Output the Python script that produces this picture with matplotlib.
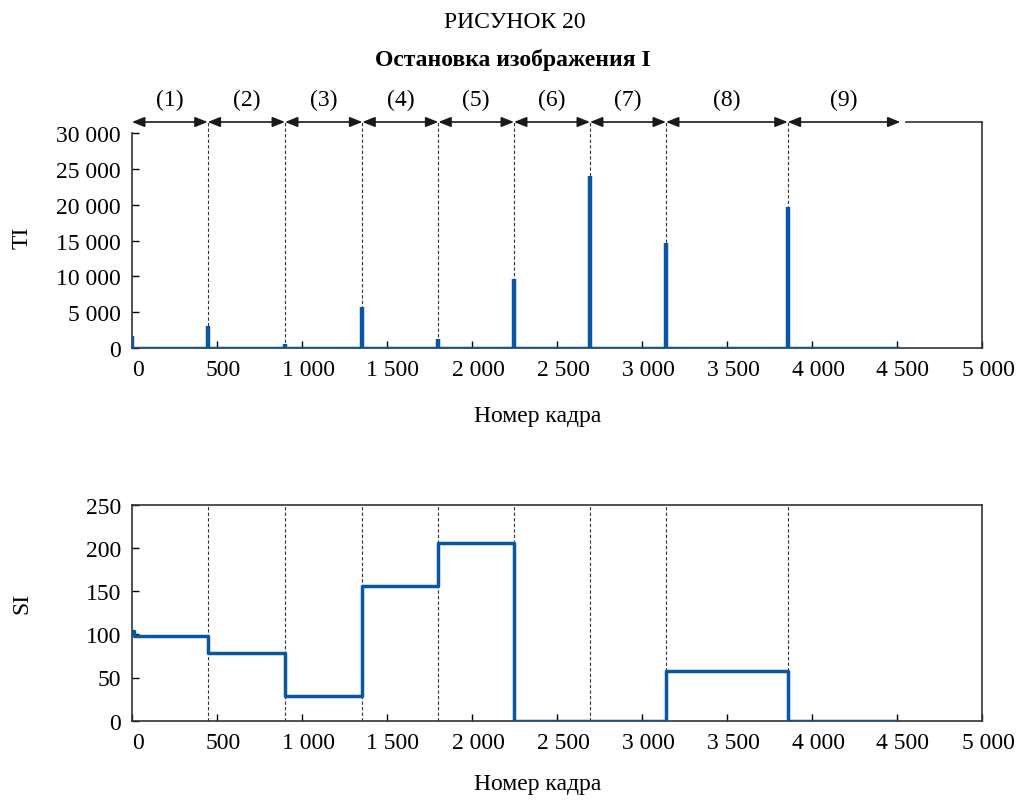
import matplotlib
matplotlib.use('Agg')
import matplotlib.pyplot as plt
import matplotlib.transforms as mtransforms
from matplotlib.ticker import FuncFormatter

plt.rcParams['font.family'] = ['Liberation Serif', 'DejaVu Serif']

# Segment boundaries (frame numbers) and labels
boundaries = [445, 900, 1355, 1802, 2247, 2694, 3141, 3857]
seg_start = 0
seg_end = 4520
seg_labels = ['(1)', '(2)', '(3)', '(4)', '(5)', '(6)', '(7)', '(8)', '(9)']

# TI: spikes at scene boundaries
ti_frames = [0, 445, 900, 1355, 1802, 2247, 2694, 3141, 3857]
ti_values = [1700, 3050, 550, 5800, 1250, 9600, 24000, 14600, 19600]

# SI: step levels per segment
si_edges = [0, 10, 445, 900, 1355, 1802, 2247, 2694, 3141, 3857, 4500]
si_levels = [104, 98, 78, 29, 156, 206, 0, 0, 57, 0]

blue = '#0b56a4'
fs = 17

fig = plt.figure(figsize=(10.21, 8.03), dpi=100)
ax1 = fig.add_axes([132/1021, 1 - 349.3/803, 850/1021, 226.3/803])
ax2 = fig.add_axes([132/1021, 1 - 721.7/803, 850/1021, 216/803])

fmt = FuncFormatter(lambda v, p: f'{int(v):,}'.replace(',', ' '))

# --- top: TI ---
for b in boundaries:
    ax1.axvline(b, color='#333333', lw=0.8, ls=(0, (3, 2)), zorder=1)
ax1.plot([seg_start, seg_end], [0, 0], color=blue, lw=2.5, zorder=3, solid_capstyle='butt')
ax1.vlines(ti_frames, 0, ti_values, color=blue, lw=3.2, zorder=3)
ax1.set_xlim(0, 5000)
ax1.set_ylim(0, 31500)
ax1.set_yticks(range(0, 30001, 5000))
ax1.spines['left'].set_bounds(0, 30000)
ax1.spines['top'].set_visible(False)

# arrows over the top
trans = mtransforms.blended_transform_factory(ax1.transData, ax1.transAxes)
edges = [seg_start] + boundaries + [seg_end]
for i in range(len(edges) - 1):
    ax1.annotate('', xy=(edges[i + 1], 1), xytext=(edges[i], 1), xycoords=trans, textcoords=trans,
                 arrowprops=dict(arrowstyle='<|-|>,head_length=0.75,head_width=0.3', color='#1a1a1a',
                                 lw=1.2, shrinkA=0, shrinkB=0), annotation_clip=False)
    ax1.text((edges[i] + edges[i + 1]) / 2, 1.1, seg_labels[i], transform=trans,
             ha='center', va='center', fontsize=fs)
ax1.plot([4550, 5000], [1, 1], color='#333333', lw=1.2, transform=trans, clip_on=False)

# --- bottom: SI ---
for b in boundaries:
    ax2.axvline(b, color='#333333', lw=0.8, ls=(0, (3, 2)), zorder=1)
ax2.step(si_edges, si_levels + [si_levels[-1]], where='post', color=blue, lw=2.5, zorder=3)
ax2.set_xlim(0, 5000)
ax2.set_ylim(0, 250)
ax2.set_yticks(range(0, 251, 50))

offset = mtransforms.ScaledTranslation(6/100, 0, fig.dpi_scale_trans)
for ax in (ax1, ax2):
    ax.set_xticks(range(0, 5001, 500))
    ax.xaxis.set_major_formatter(fmt)
    ax.yaxis.set_major_formatter(fmt)
    ax.tick_params(direction='in', labelsize=fs, length=5, width=1, top=False, right=False, pad=8)
    for lab in ax.get_xticklabels():
        lab.set_transform(lab.get_transform() + offset)
    for s in ax.spines.values():
        s.set_linewidth(1.2)
        s.set_color('#333333')

fig.text(538/1021, 1 - 417/803, 'Номер кадра', ha='center', va='center', fontsize=fs)
fig.text(538/1021, 1 - 785/803, 'Номер кадра', ha='center', va='center', fontsize=fs)
fig.text(22/1021, 1 - 238/803, 'TI', ha='center', va='center', fontsize=fs, rotation=90)
fig.text(22/1021, 1 - 603/803, 'SI', ha='center', va='center', fontsize=fs, rotation=90)
fig.text(515/1021, 1 - 22/803, 'РИСУНОК 20', ha='center', va='center', fontsize=17)
fig.text(513/1021, 1 - 60/803, 'Остановка изображения I', ha='center', va='center',
         fontsize=17, fontweight='bold')

fig.savefig('out.png', dpi=100)
